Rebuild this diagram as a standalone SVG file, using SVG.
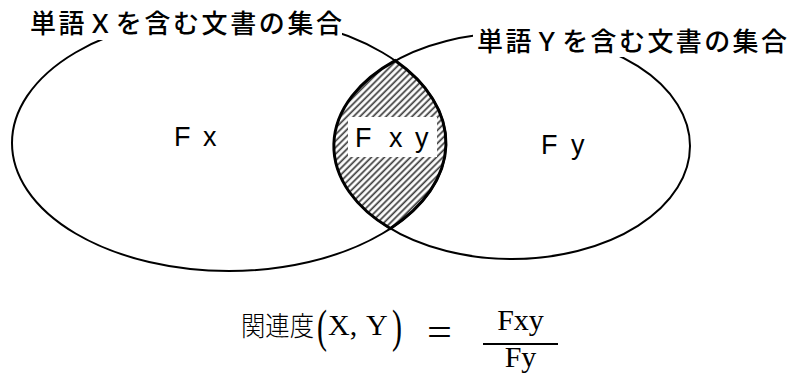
<svg xmlns="http://www.w3.org/2000/svg" width="796" height="374" viewBox="0 0 796 374">
<style>
.set{fill:none;stroke:#000;stroke-width:2}
.lens{fill:url(#hatch);stroke:#000;stroke-width:3}
.title{font-family:"Noto Sans CJK JP","Noto Sans",sans-serif;font-size:26px;font-weight:500;fill:#000}
.lbl{font-family:"Liberation Sans",Arial,sans-serif;font-size:27px;fill:#000}
.math{font-family:"Liberation Serif","Times New Roman",serif;font-size:30px;fill:#000}
.kanji{font-family:"Noto Sans CJK JP",sans-serif;font-size:27px;font-weight:300;fill:#000}
.bg{fill:#fff}
</style>
<defs>
<pattern id="hatch" width="4.6" height="10" patternUnits="userSpaceOnUse" patternTransform="rotate(45)">
<rect width="4.6" height="10" fill="#fff"/>
<line x1="1.2" y1="0" x2="1.2" y2="10" stroke="#3a3a3a" stroke-width="1.7"/>
</pattern>
</defs>
<g id="connectors">
<ellipse id="setX" class="set" cx="229" cy="143" rx="217" ry="128"/>
<ellipse id="setY" class="set" cx="512" cy="146" rx="178" ry="113"/>
</g>
<g id="intersection">
<path class="lens" d="M395.1 60.6 A217 128 0 0 1 390.4 228.5 A178 113 0 0 1 395.1 60.6 Z"/>
<rect class="bg" x="348" y="117" width="89" height="40"/>
<text class="lbl" x="355" y="147">F</text>
<text class="lbl" x="389" y="147">x</text>
<text class="lbl" x="415" y="147">y</text>
</g>
<g id="labelX">
<rect class="bg" x="26" y="8" width="316" height="32"/>
<text class="title" x="30" y="33" textLength="312" lengthAdjust="spacing">単語Ｘを含む文書の集合</text>
</g>
<g id="labelY">
<rect class="bg" x="473" y="25" width="320" height="32"/>
<text class="title" x="477" y="51" textLength="310" lengthAdjust="spacing">単語Ｙを含む文書の集合</text>
</g>
<g id="Fx">
<text class="lbl" x="174" y="146">F</text>
<text class="lbl" x="203" y="146">x</text>
</g>
<g id="Fy">
<text class="lbl" x="541" y="154">F</text>
<text class="lbl" x="571" y="154">y</text>
</g>
<g id="formula">
<text class="kanji" x="241" y="336" textLength="73" lengthAdjust="spacingAndGlyphs">関連度</text>
<text class="math" transform="translate(317,342) scale(1,1.55)">(</text>
<text class="math" x="328" y="335">X,</text>
<text class="math" x="366" y="335">Y</text>
<text class="math" transform="translate(392,342) scale(1,1.55)">)</text>
<text class="math" transform="translate(427,346) scale(1.3,1.2)" style="font-size:34px">=</text>
<line x1="483" y1="344" x2="558" y2="344" stroke="#000" stroke-width="2"/>
<text class="math" x="520.5" y="330" text-anchor="middle">Fxy</text>
<text class="math" x="520.5" y="367" text-anchor="middle">Fy</text>
</g>
</svg>
